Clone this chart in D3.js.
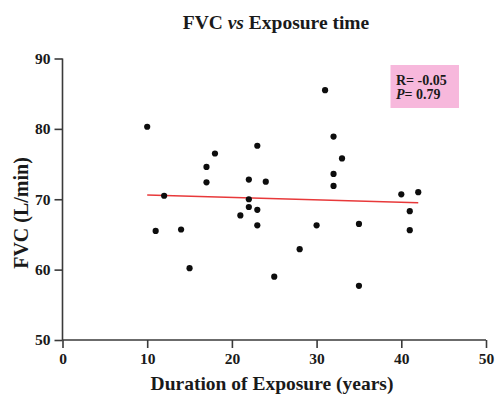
<!DOCTYPE html>
<html>
<head>
<meta charset="utf-8">
<script src="https://cdn.jsdelivr.net/npm/d3@7"></script>
<style>
  html, body { margin: 0; padding: 0; background: #fff; }
  svg { display: block; }
  text { font-family: "Liberation Serif", "Times New Roman", serif; font-weight: bold; fill: #1a1a1a; }
</style>
</head>
<body>
<svg id="chart" width="495" height="394"></svg>
<script>
// Data
const exposureYears = [10, 11, 12, 14, 15, 18, 17, 17, 23, 22, 24, 22, 22, 23, 21, 23, 28, 25, 31, 32, 33, 32, 32, 40, 42, 41, 41, 30, 35, 35];
const fvcValues     = [80.3, 65.5, 70.5, 65.7, 60.2, 76.5, 74.6, 72.4, 77.6, 72.8, 72.5, 70.0, 68.9, 68.5, 67.7, 66.3, 62.9, 59.0, 85.5, 78.9, 75.8, 73.6, 71.9, 70.7, 71.0, 68.3, 65.6, 66.3, 66.5, 57.7];
const fitX = [10, 42];
const fitY = [70.6, 69.5];
const xTicks = [0, 10, 20, 30, 40, 50];
const yTicks = [50, 60, 70, 80, 90];
const statsLines = ["R= -0.05", "P= 0.79"];

const svg = d3.select("#chart");
const x = d3.scaleLinear().domain([0, 50]).range([62.5, 486]);
const y = d3.scaleLinear().domain([50, 90]).range([340, 58.5]);

const axisColor = "#3a3a3a";

// Axes
const xAxis = svg.append("g").attr("transform", "translate(0,340)")
  .call(d3.axisBottom(x).tickValues(xTicks).tickSize(8).tickPadding(5).tickFormat(d3.format("d")));
const yAxis = svg.append("g").attr("transform", "translate(62.5,0)")
  .call(d3.axisLeft(y).tickValues(yTicks).tickSize(8).tickPadding(4).tickFormat(d3.format("d")));
[xAxis, yAxis].forEach(g => {
  g.select(".domain").attr("stroke", axisColor).attr("stroke-width", 1.6);
  g.selectAll(".tick line").attr("stroke", axisColor).attr("stroke-width", 1.6);
  g.selectAll(".tick text").attr("font-size", 15.5).attr("font-family", "Liberation Serif, serif").attr("font-weight", "bold").attr("fill", "#1a1a1a");
});
xAxis.select(".domain").attr("d", `M${x(0)},0H${x(50)}`);
yAxis.select(".domain").attr("d", `M0,${y(50)}V${y(90)}`);

// Fit line
svg.append("line")
  .attr("x1", x(fitX[0])).attr("y1", y(fitY[0]))
  .attr("x2", x(fitX[1])).attr("y2", y(fitY[1]))
  .attr("stroke", "#e8393a").attr("stroke-width", 1.4);

// Points
svg.append("g").selectAll("circle")
  .data(exposureYears.map((d, i) => [d, fvcValues[i]]))
  .join("circle")
  .attr("cx", d => x(d[0])).attr("cy", d => y(d[1]))
  .attr("r", 3.1).attr("fill", "#0d0d0d");

// Title
const title = svg.append("text").attr("x", 276).attr("y", 28.5).attr("text-anchor", "middle").attr("font-size", 19.5);
title.append("tspan").text("FVC ");
title.append("tspan").attr("font-style", "italic").text("vs");
title.append("tspan").text(" Exposure time");

// Axis labels
svg.append("text").attr("x", 272).attr("y", 389.5).attr("text-anchor", "middle").attr("font-size", 19.5)
  .text("Duration of Exposure (years)");
svg.append("text").attr("transform", "translate(27.5,213) rotate(-90)").attr("text-anchor", "middle").attr("font-size", 20)
  .text("FVC (L/min)");

// Stats box
svg.append("rect").attr("x", 390.5).attr("y", 65).attr("width", 68.5).attr("height", 43).attr("fill", "#f7b8dc");
const stats = svg.append("text").attr("x", 396).attr("y", 84.5).attr("font-size", 14);
stats.append("tspan").attr("x", 396).text(statsLines[0]);
const pLine = stats.append("tspan").attr("x", 396).attr("dy", 14.5);
pLine.append("tspan").attr("font-style", "italic").text(statsLines[1].slice(0, 1));
pLine.append("tspan").text(statsLines[1].slice(1));
</script>
</body>
</html>
